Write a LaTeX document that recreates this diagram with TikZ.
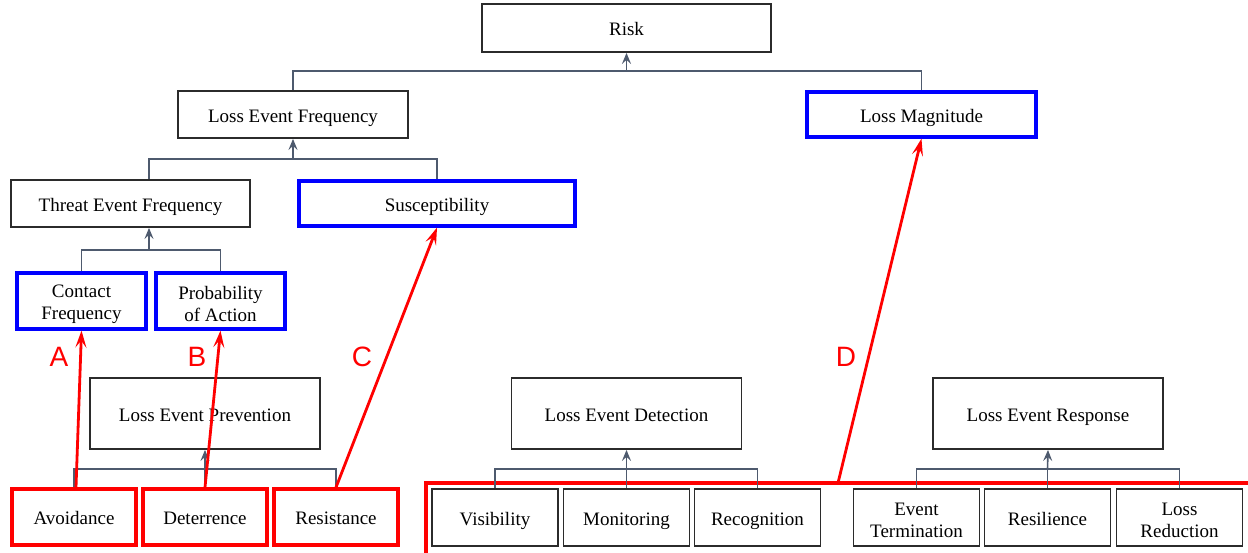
\documentclass[tikz,border=0pt]{standalone}
\usepackage{fontspec}
\setmainfont{Liberation Serif}
\newfontfamily\boxfont{Liberation Serif}
\newfontfamily\letterfont{Liberation Sans}
\usetikzlibrary{arrows.meta}
\definecolor{linkgray}{HTML}{4E5A6E}
\definecolor{boxedge}{HTML}{2B2B2B}
\definecolor{pureblue}{RGB}{0,0,255}
\definecolor{purered}{RGB}{255,0,0}
% two centred lines with fixed outer height and depth
\newcommand{\twolines}[2]{\rule{0pt}{18.5pt}#1\\#2\rule[0pt]{0pt}{0pt}}
\tikzset{
  box/.style={draw=boxedge, line width=1.8pt, fill=white, inner sep=0pt,
    align=center, font=\boxfont\fontsize{19}{22}\selectfont},
  oneline/.style={text height=16pt, text depth=0.5pt},
  bluebox/.style={box, draw=pureblue, line width=3.2pt},
  redbox/.style={box, draw=purered, line width=3.2pt},
  link/.style={draw=linkgray, line width=1.6pt},
  linkarrow/.style={link, -{Stealth[length=11pt,width=9pt,inset=4pt]}},
  redarrow/.style={draw=purered, line width=2.8pt, -{Stealth[length=17pt,width=11pt,inset=7pt]}},
  letter/.style={text=purered, font=\letterfont\fontsize{28}{30}\selectfont, inner sep=0pt},
}
\begin{document}
\begin{tikzpicture}[x=1pt,y=-1pt]
\useasboundingbox (0,0) rectangle (1248,552);
\clip (0,0) rectangle (1248,552);

% large red frame around the detection and response controls
\draw[purered, line width=3.2pt] (426,572) -- (426,483) -- (1260,483);
\coordinate (dstart) at (838,483);

% top levels
\node[box, oneline, minimum width=289pt, minimum height=48pt] (risk) at (626.5,28) {Risk};
\node[box, oneline, minimum width=230pt, minimum height=47pt] (lef) at (293,114.5) {Loss Event Frequency};
\node[bluebox, oneline, minimum width=229pt, minimum height=45pt] (lm) at (921.5,114.5) {Loss Magnitude};
\node[box, oneline, minimum width=239pt, minimum height=47pt] (tef) at (130.5,203.5) {Threat Event Frequency};
\node[bluebox, oneline, minimum width=276pt, minimum height=45pt] (sus) at (437,203.5) {Susceptibility};
\node[bluebox, minimum width=129pt, minimum height=56pt] (cf) at (81.5,301) {\twolines{Contact}{Frequency}};
\node[bluebox, minimum width=129pt, minimum height=56pt] (poa) at (220.5,301) {\twolines{Probability}{of Action}};

% control groups
\node[box, oneline, minimum width=230pt, minimum height=71pt] (lep) at (205,413.5) {Loss Event Prevention};
\node[box, oneline, minimum width=230pt, minimum height=71pt] (led) at (626.5,413.5) {Loss Event Detection};
\node[box, oneline, minimum width=230pt, minimum height=71pt] (ler) at (1048,413.5) {Loss Event Response};

% controls
\node[redbox, oneline, minimum width=124pt, minimum height=56pt] (av) at (74,517) {Avoidance};
\node[redbox, oneline, minimum width=124pt, minimum height=56pt] (de) at (205,517) {Deterrence};
\node[redbox, oneline, minimum width=124pt, minimum height=56pt] (rs) at (336,517) {Resistance};
\node[box, oneline, minimum width=126pt, minimum height=57pt] (vi) at (495,517.5) {Visibility};
\node[box, oneline, minimum width=126pt, minimum height=57pt] (mo) at (626.5,517.5) {Monitoring};
\node[box, oneline, minimum width=126pt, minimum height=57pt] (rc) at (757.5,517.5) {Recognition};
\node[box, minimum width=126pt, minimum height=57pt] (et) at (916.5,517.5) {\twolines{Event}{Termination}};
\node[box, oneline, minimum width=126pt, minimum height=57pt] (re) at (1047.5,517.5) {Resilience};
\node[box, minimum width=126pt, minimum height=57pt] (lr) at (1179.5,517.5) {\twolines{Loss}{Reduction}};

% junction points of the tree connectors
\coordinate (j1) at (626.5,71);
\coordinate (j2) at (293,159);
\coordinate (j3) at (149,250);
\coordinate (j4) at (205,469);
\coordinate (j5) at (626.5,469);
\coordinate (j6) at (1047.5,469);

% tree connectors
\draw[link] (lef.north) |- (j1) -| (lm.north);
\draw[linkarrow] (j1) -- (risk.south);
\draw[link] (tef.north -| j3) |- (j2) -| (sus.north);
\draw[linkarrow] (j2) -- (lef.south);
\draw[link] (cf.north) |- (j3) -| (poa.north);
\draw[linkarrow] (j3) -- (tef.south -| j3);
\draw[link] (av.north) |- (j4) -| (rs.north);
\draw[link] (de.north) -- (j4);
\draw[linkarrow] (j4) -- (lep.south);
\draw[link] (vi.north) |- (j5) -| (rc.north);
\draw[link] (mo.north) -- (j5);
\draw[linkarrow] (j5) -- (led.south);
\draw[link] (et.north) |- (j6) -| (lr.north);
\draw[link] (re.north) -- (j6);
\draw[linkarrow] (j6) -- (ler.south);

% mappings from controls to risk factors
\draw[redarrow] ([xshift=2pt]av.north) -- (cf.south);
\draw[redarrow] (de.north) -- (poa.south);
\draw[redarrow] (rs.north) -- (sus.south);
\draw[redarrow] (dstart) -- (lm.south);

\node[letter] (la) at (59,357) {A};
\node[letter] (lb) at (197,357) {B};
\node[letter] (lc) at (362,357) {C};
\node[letter] (ld) at (846,357) {D};
\end{tikzpicture}
\end{document}
